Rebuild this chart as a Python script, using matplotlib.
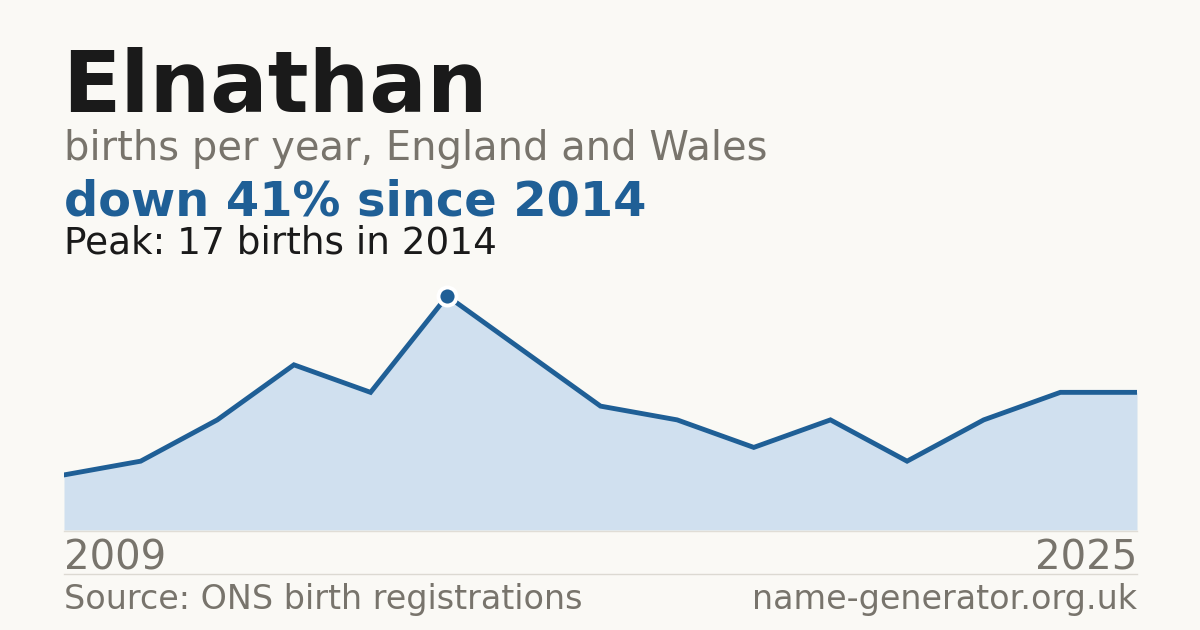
import numpy as np
import matplotlib
matplotlib.use("Agg")
import matplotlib.pyplot as plt

# Data
years = [2009, 2010, 2011, 2012, 2013, 2014, 2015, 2016, 2017, 2018, 2019, 2020, 2021, 2022, 2023]
births = [4, 5, 8, 12, 10, 17, 13, 9, 8, 6, 8, 5, 8, 10, 10]
first_label = "2009"
last_label = "2025"
peak_year = 2014

# Colours
bg = "#faf9f5"
blue = "#1f5f96"
fill = "#d0e0ef"
grey = "#78746c"
dark = "#1a1a1a"

W, H = 1200, 630
fig = plt.figure(figsize=(W / 100, H / 100), dpi=100, facecolor=bg)

def fx(px):
    return px / W

def fy(py):
    return 1 - py / H

# chart area: x 64..1137 px, baseline at 530, peak (17) at 296
left, right, bottom, top = 64, 1137, 530, 280
ax = fig.add_axes([fx(left), fy(bottom), fx(right - left), (bottom - top) / H])
ax.set_facecolor(bg)
idx = np.arange(len(births))
ymax = max(births) * (bottom - top) / (bottom - 296)
ax.fill_between(idx, births, 0, color=fill, lw=0)
ax.plot(idx, births, color=blue, lw=3.5, solid_joinstyle="miter")
pk = years.index(peak_year)
ax.plot([idx[pk]], [births[pk]], marker="o", ms=13, color=blue,
        mec="white", mew=2.8, clip_on=False, zorder=5)
ax.set_xlim(0, len(births) - 1)
ax.set_ylim(0, ymax)
ax.axis("off")

# separator lines
fig.add_artist(plt.Line2D([fx(left), fx(right)], [fy(530.5), fy(530.5)], color="#e0ddd6", lw=1))
fig.add_artist(plt.Line2D([fx(left), fx(right)], [fy(574), fy(574)], color="#dcd9d2", lw=1))

# texts
fig.text(fx(62), fy(112), "Elnathan", fontsize=61.5, fontweight="bold", color=dark, va="baseline")
fig.text(fx(64), fy(160), "births per year, England and Wales", fontsize=28.8, color=grey, va="baseline")
fig.text(fx(64), fy(215), "down 41% since 2014", fontsize=34.5, fontweight="bold", color=blue, va="baseline")
fig.text(fx(64), fy(254), "Peak: 17 births in 2014", fontsize=26.9, color=dark, va="baseline")
fig.text(fx(64), fy(570), first_label, fontsize=29, color=grey, va="baseline")
fig.text(fx(1137), fy(570), last_label, fontsize=29, color=grey, va="baseline", ha="right")
fig.text(fx(64), fy(609), "Source: ONS birth registrations", fontsize=24, color=grey, va="baseline")
fig.text(fx(1137), fy(609), "name-generator.org.uk", fontsize=24, color=grey, va="baseline", ha="right")

fig.savefig("out.png", dpi=100, facecolor=bg)
